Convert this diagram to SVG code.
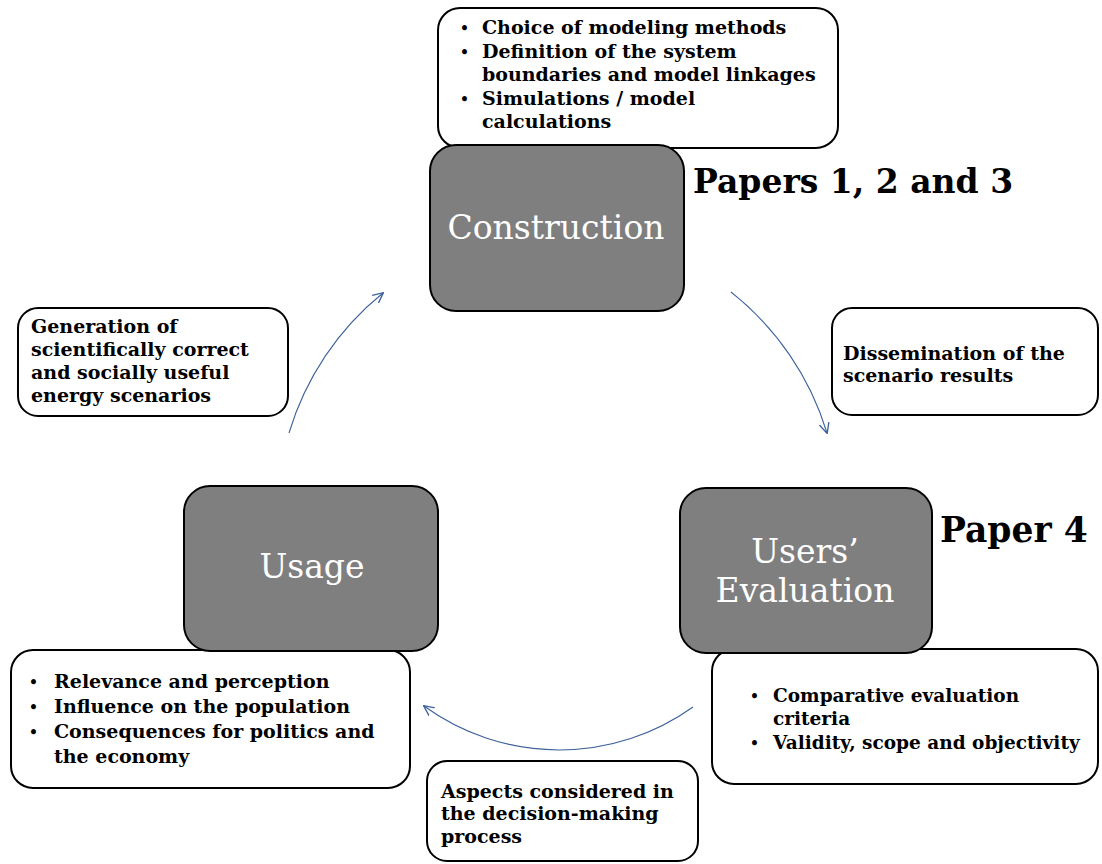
<svg xmlns="http://www.w3.org/2000/svg" width="1102" height="864" viewBox="0 0 1102 864">
<defs>
<style>
.box{fill:#fff;stroke:#000;stroke-width:2}
.node{fill:#7f7f7f;stroke:#000;stroke-width:2}
.bt{font-family:"DejaVu Serif","Liberation Serif",serif;font-weight:bold;font-size:19px;fill:#000}
.b{font-size:14px}
.nt{font-family:"DejaVu Serif","Liberation Serif",serif;font-size:33px;fill:#fff;text-anchor:middle}
.pt{font-family:"DejaVu Serif","Liberation Serif",serif;font-weight:bold;font-size:33px;fill:#000}
.arc{fill:none;stroke:#3c619b;stroke-width:1.1}
</style>
<marker id="ah" viewBox="0 0 10 10" refX="9" refY="5" markerWidth="11" markerHeight="11" markerUnits="userSpaceOnUse" orient="auto">
<path d="M0,0.5 L9.5,5 L0,9.5" fill="none" stroke="#3c619b" stroke-width="1.2"/>
</marker>
</defs>
<rect width="1102" height="864" fill="#fff"/>

<g id="box-construction">
<rect class="box" x="438" y="8" width="400" height="140" rx="22"/>
<text class="bt"><tspan class="b" x="460" y="33">•</tspan><tspan x="482" y="34">Choice of modeling methods</tspan>
<tspan class="b" x="460" y="57">•</tspan><tspan x="482" y="58">Definition of the system</tspan>
<tspan x="482" y="81">boundaries and model linkages</tspan>
<tspan class="b" x="460" y="104">•</tspan><tspan x="482" y="105">Simulations / model</tspan>
<tspan x="482" y="128">calculations</tspan></text>
</g>

<g id="box-generation">
<rect class="box" x="18" y="308" width="270" height="108" rx="20"/>
<text class="bt"><tspan x="31" y="333">Generation of</tspan>
<tspan x="31" y="356">scientifically correct</tspan>
<tspan x="31" y="379">and socially useful</tspan>
<tspan x="31" y="402">energy scenarios</tspan></text>
</g>

<g id="box-dissemination">
<rect class="box" x="832" y="308" width="266" height="107" rx="20"/>
<text class="bt"><tspan x="843" y="360">Dissemination of the</tspan>
<tspan x="843" y="382">scenario results</tspan></text>
</g>

<g id="box-usage">
<rect class="box" x="11" y="650" width="399" height="138" rx="22"/>
<text class="bt"><tspan class="b" x="29" y="687">•</tspan><tspan x="54" y="688">Relevance and perception</tspan>
<tspan class="b" x="29" y="712">•</tspan><tspan x="54" y="713">Influence on the population</tspan>
<tspan class="b" x="29" y="737">•</tspan><tspan x="54" y="738">Consequences for politics and</tspan>
<tspan x="54" y="763">the economy</tspan></text>
</g>

<g id="box-evaluation">
<rect class="box" x="712" y="649" width="386" height="135" rx="22"/>
<text class="bt" style="font-size:18.5px"><tspan class="b" x="750" y="701">•</tspan><tspan x="773" y="702">Comparative evaluation</tspan>
<tspan x="773" y="725">criteria</tspan>
<tspan class="b" x="750" y="748">•</tspan><tspan x="773" y="749">Validity, scope and objectivity</tspan></text>
</g>

<g id="box-aspects">
<rect class="box" x="427" y="761" width="271" height="100" rx="20"/>
<text class="bt"><tspan x="441" y="798">Aspects considered in</tspan>
<tspan x="441" y="820">the decision-making</tspan>
<tspan x="441" y="843">process</tspan></text>
</g>

<g id="node-construction">
<rect class="node" x="430" y="145" width="254" height="166" rx="26"/>
<text class="nt" x="556" y="239">Construction</text>
</g>

<g id="node-usage">
<rect class="node" x="184" y="486" width="254" height="165" rx="26"/>
<text class="nt" x="312" y="578">Usage</text>
</g>

<g id="node-evaluation">
<rect class="node" x="680" y="488" width="252" height="165" rx="26"/>
<text class="nt" x="805" y="563">Users’</text>
<text class="nt" x="805" y="602">Evaluation</text>
</g>

<g id="labels">
<text class="pt" x="693" y="193">Papers 1, 2 and 3</text>
<text class="pt" x="940" y="542" style="font-size:34.5px">Paper 4</text>
</g>

<g id="connectors">
<path class="arc" d="M289,433 A285,285 0 0 1 383,293" marker-end="url(#ah)"/>
<path class="arc" d="M731,292 A285,285 0 0 1 827,433" marker-end="url(#ah)"/>
<path class="arc" d="M693,707 A230,230 0 0 1 424,706" marker-end="url(#ah)"/>
</g>
</svg>
